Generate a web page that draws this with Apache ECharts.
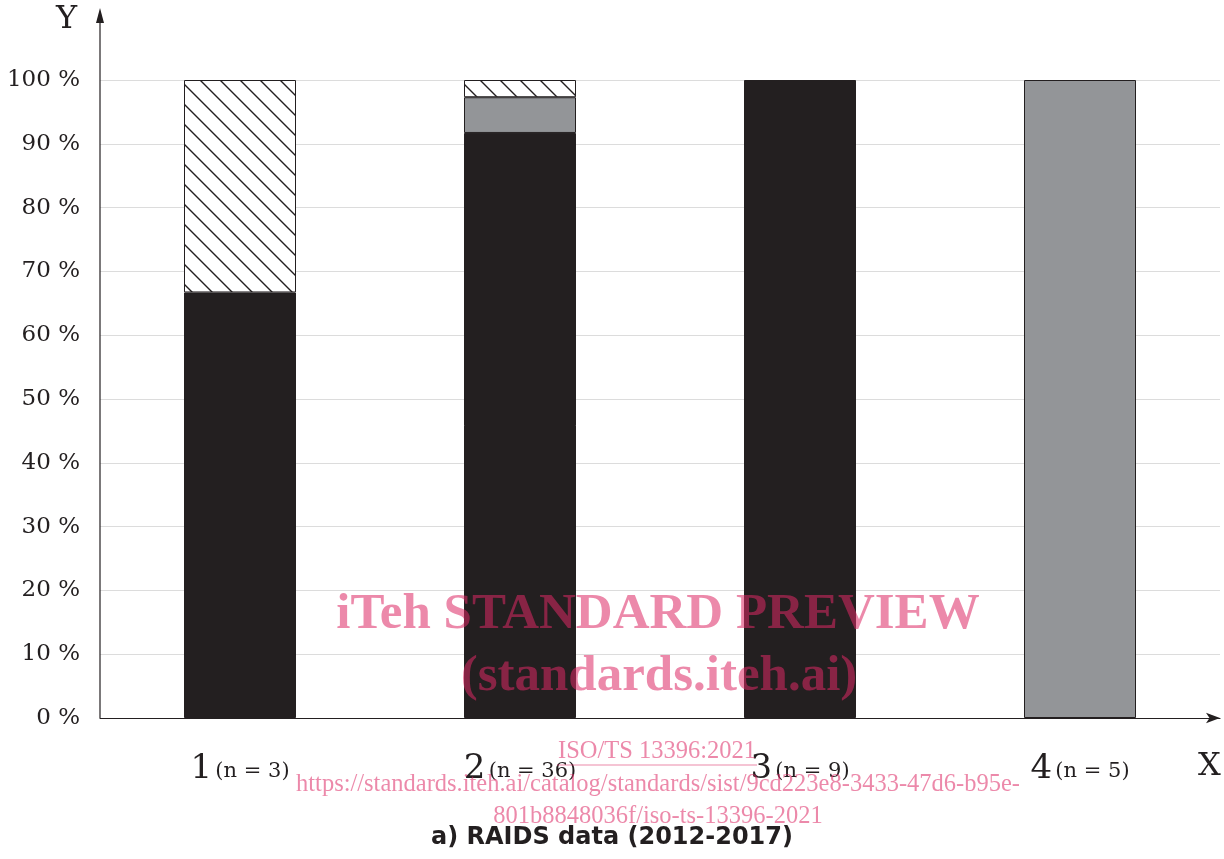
<!DOCTYPE html>
<html><head><meta charset="utf-8">
<script src="https://cdn.jsdelivr.net/npm/echarts@6/dist/echarts.min.js"></script>
<style>html,body{margin:0;padding:0;background:#fff}#c{width:1224px;height:859px}</style>
</head><body><div id="c"></div>
<script>
const categories = ['1', '2', '3', '4'];
const nLabels = ['(n = 3)', '(n = 36)', '(n = 9)', '(n = 5)'];
const blackValues = [66.7, 91.7, 100, '-'];
const greyValues = ['-', 5.6, '-', 100];
const hatchValues = [33.3, 2.7, '-', '-'];
const yTicks = [0, 10, 20, 30, 40, 50, 60, 70, 80, 90, 100];

function hatch() {
  const s = 20, c = document.createElement('canvas');
  c.width = s; c.height = s;
  const g = c.getContext('2d');
  g.fillStyle = '#fff'; g.fillRect(0, 0, s, s);
  g.strokeStyle = '#231f20'; g.lineWidth = 1.4;
  g.beginPath();
  g.moveTo(-2, -2); g.lineTo(s + 2, s + 2);
  g.moveTo(-2, s - 2); g.lineTo(2, s + 2);
  g.moveTo(s - 2, -2); g.lineTo(s + 2, 2);
  g.stroke();
  return c;
}

const chart = echarts.init(document.getElementById('c'), null, {renderer: 'canvas'});
const border = {borderColor: '#231f20', borderWidth: 1};
const serif = 'DejaVu Serif';
const wm = 'rgba(220,40,100,0.55)';
chart.setOption({
  animation: false,
  grid: {left: 100, right: 4, top: 80, bottom: 141},
  xAxis: {
    type: 'category', data: categories,
    axisLine: {lineStyle: {color: '#231f20', width: 1.2}, symbol: ['none', 'arrow'], symbolSize: [8, 14], symbolOffset: [0, 0]},
    axisTick: {show: false},
    axisLabel: {
      margin: 34, interval: 0,
      formatter: (v, i) => '{a|' + v + '} {b|' + nLabels[i] + '}',
      rich: {
        a: {fontFamily: serif, fontSize: 34, color: '#231f20'},
        b: {fontFamily: serif, fontSize: 21, color: '#231f20', padding: [6, 0, 0, 0]}
      }
    }
  },
  yAxis: {
    type: 'value', min: 0, max: 100, interval: 10,
    axisLine: {show: false}, axisTick: {show: false},
    splitLine: {lineStyle: {color: '#dcdcdc', width: 1}},
    axisLabel: {fontFamily: serif, fontSize: 23, color: '#231f20', margin: 20, formatter: v => yTicks.includes(v) ? v + ' %' : ''}
  },
  series: [
    {type: 'bar', stack: 's', data: blackValues, barWidth: 112, itemStyle: Object.assign({color: '#231f20'}, border)},
    {type: 'bar', stack: 's', data: greyValues, barWidth: 112, itemStyle: Object.assign({color: '#939598'}, border)},
    {type: 'bar', stack: 's', data: hatchValues, barWidth: 112, itemStyle: Object.assign({color: {image: hatch(), repeat: 'repeat'}}, border)}
  ],
  graphic: [
    {type: 'line', shape: {x1: 100, y1: 718, x2: 100, y2: 20}, style: {stroke: '#231f20', lineWidth: 1.2}, z: 10},
    {type: 'polygon', shape: {points: [[100, 8], [96, 23], [104, 23]]}, style: {fill: '#231f20'}, z: 10},
    {type: 'text', left: 56, top: 4, style: {text: 'Y', font: '32px "DejaVu Serif"', fill: '#231f20'}},
    {type: 'text', left: 1198, top: 751, style: {text: 'X', font: '32px "DejaVu Serif"', fill: '#231f20'}},
    {type: 'text', left: 'center', top: 826, style: {text: 'a) RAIDS data (2012-2017)', font: 'bold 24px "DejaVu Sans"', fill: '#231f20'}},
    {type: 'text', x: 658, y: 615, style: {text: 'iTeh STANDARD PREVIEW', font: 'bold 51px "Liberation Serif"', fill: wm, align: 'center', verticalAlign: 'middle'}, z: 20},
    {type: 'text', x: 659, y: 677, style: {text: '(standards.iteh.ai)', font: 'bold 51px "Liberation Serif"', fill: wm, align: 'center', verticalAlign: 'middle'}, z: 20},
    {type: 'text', x: 657, y: 752, style: {text: 'ISO/TS 13396:2021', font: '24.5px "Liberation Serif"', fill: wm, align: 'center', verticalAlign: 'middle'}, z: 20},
    {type: 'line', shape: {x1: 557, y1: 765, x2: 757, y2: 765}, style: {stroke: wm, lineWidth: 1.2}, z: 20},
    {type: 'text', x: 658, y: 785, style: {text: 'https://standards.iteh.ai/catalog/standards/sist/9cd223e8-3433-47d6-b95e-', font: '24.5px "Liberation Serif"', fill: wm, align: 'center', verticalAlign: 'middle'}, z: 20},
    {type: 'text', x: 658, y: 817, style: {text: '801b8848036f/iso-ts-13396-2021', font: '24.5px "Liberation Serif"', fill: wm, align: 'center', verticalAlign: 'middle'}, z: 20}
  ]
});
</script></body></html>
